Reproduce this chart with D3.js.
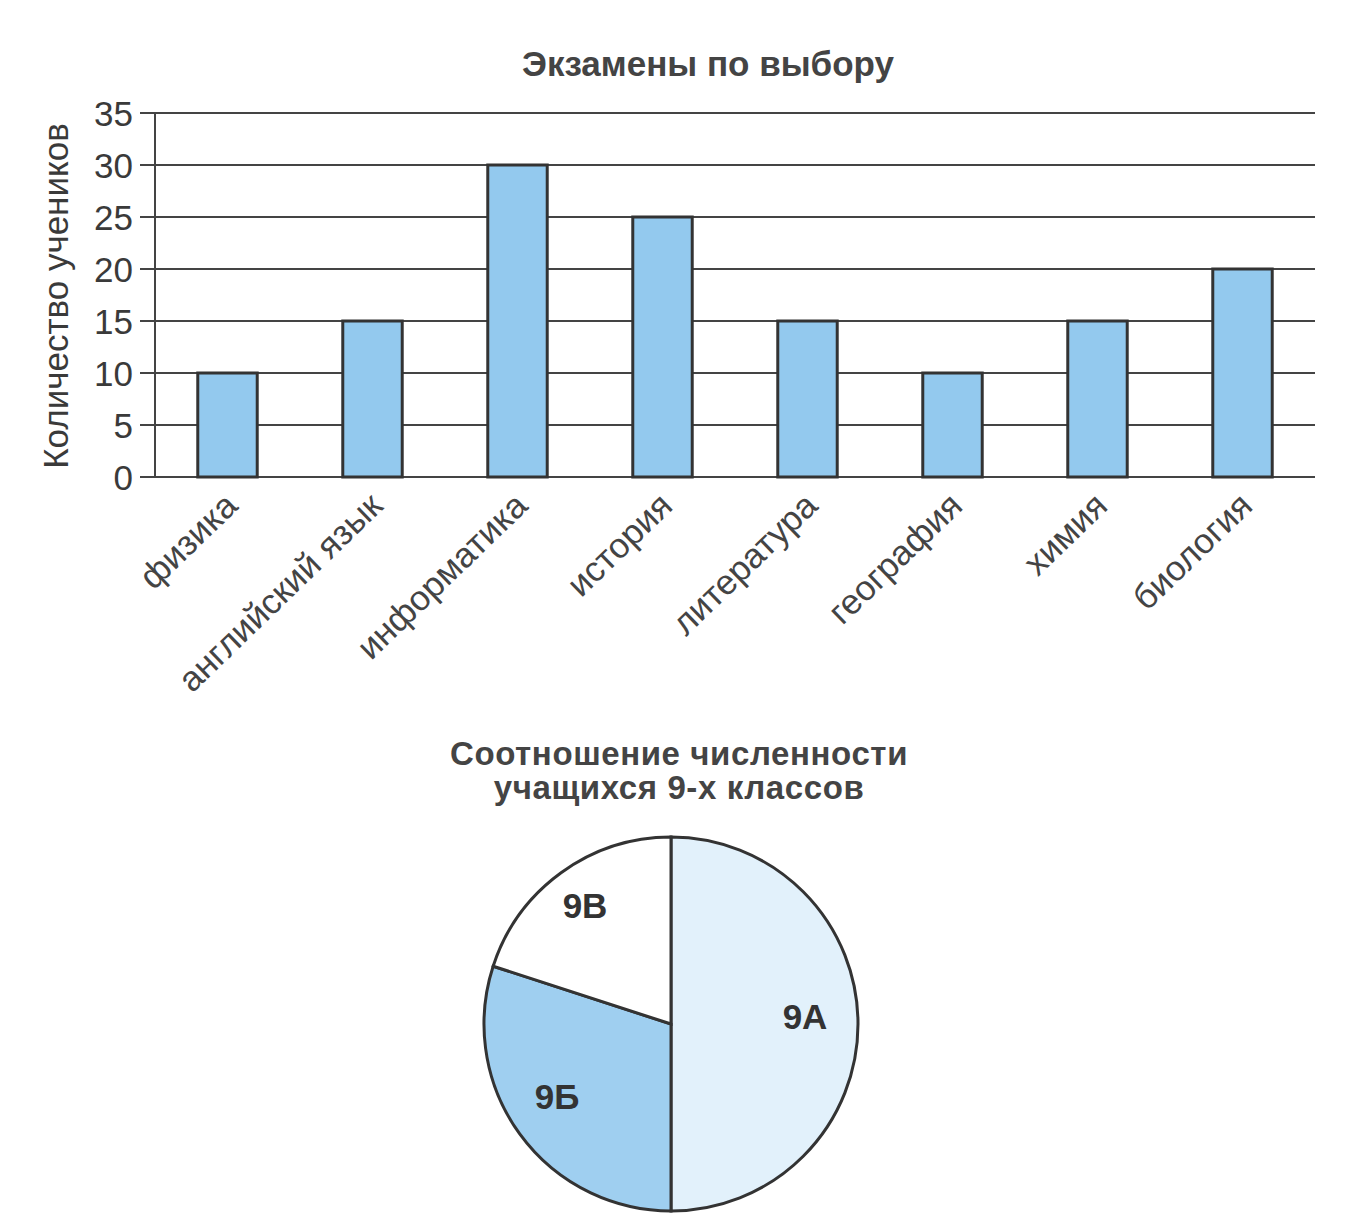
<!DOCTYPE html>
<html><head><meta charset="utf-8">
<script src="https://cdn.jsdelivr.net/npm/d3@7/dist/d3.min.js"></script>
<style>body{margin:0;background:#fff}svg{display:block}text{font-family:"Liberation Sans",Arial,sans-serif}</style>
</head><body>
<svg id="c" width="1371" height="1232"></svg>
<script>
const subjects = ["физика","английский язык","информатика","история","литература","география","химия","биология"];
const students = [10,15,30,25,15,10,15,20];
const yTicks = [0,5,10,15,20,25,30,35];
const classes = ["9А","9Б","9В"];
const classShare = [50,30,20];

const svg = d3.select("#c");
const ink = "#3a3a3a";

// bar chart
const x = d3.scaleBand().domain(subjects).range([155,1315]).paddingInner(0.59).paddingOuter(0.295);
const y = d3.scaleLinear().domain([0,35]).range([477,113]);

svg.append("text").attr("x",708).attr("y",76).attr("text-anchor","middle")
  .attr("font-size",35).attr("font-weight","bold").attr("fill","#444").text("Экзамены по выбору");

const grid = svg.append("g");
grid.selectAll("line").data(yTicks).join("line")
  .attr("x1",140).attr("x2",1315).attr("y1",d=>y(d)).attr("y2",d=>y(d))
  .attr("stroke","#444").attr("stroke-width",2);
svg.append("line").attr("x1",155).attr("x2",155).attr("y1",y(35)).attr("y2",y(0))
  .attr("stroke","#444").attr("stroke-width",2);

const yAxis = d3.axisLeft(y).tickValues(yTicks).tickSize(0).tickPadding(0);
const ga = svg.append("g").attr("transform","translate(133,0)").call(yAxis);
ga.select(".domain").remove();
ga.selectAll("text").attr("font-size",35).attr("fill",ink).attr("font-family","Liberation Sans, Arial, sans-serif").attr("dy","0.36em");

svg.append("text").attr("transform","translate(68,296) rotate(-90)").attr("text-anchor","middle")
  .attr("font-size",35).attr("fill",ink).text("Количество учеников");

svg.append("g").selectAll("rect").data(subjects).join("rect")
  .attr("x",d=>x(d)).attr("width",x.bandwidth())
  .attr("y",(d,i)=>y(students[i])).attr("height",(d,i)=>y(0)-y(students[i]))
  .attr("fill","#93c9ee").attr("stroke","#333").attr("stroke-width",3);

const xAxis = d3.axisBottom(x).tickSize(0).tickPadding(0);
const gx = svg.append("g").attr("transform","translate(0,477)").call(xAxis);
gx.select(".domain").remove();
gx.selectAll("text").attr("font-size",35).attr("fill","#444").attr("font-family","Liberation Sans, Arial, sans-serif")
  .attr("text-anchor","end").attr("dy",0).attr("transform","translate(12,31) rotate(-44)");

// pie chart
svg.append("text").attr("x",679).attr("y",765).attr("text-anchor","middle")
  .attr("font-size",33).attr("letter-spacing",0.6).attr("font-weight","bold").attr("fill","#444").text("Соотношение численности");
svg.append("text").attr("x",679).attr("y",799).attr("text-anchor","middle")
  .attr("font-size",33).attr("letter-spacing",0.6).attr("font-weight","bold").attr("fill","#444").text("учащихся 9-х классов");

const pie = d3.pie().sort(null).value(d=>d)(classShare);
const arc = d3.arc().innerRadius(0).outerRadius(187);
const fills = ["#e2f1fb","#9fcff0","#ffffff"];
const pg = svg.append("g").attr("transform","translate(671,1024)");
pg.selectAll("path").data(pie).join("path").attr("d",arc)
  .attr("fill",(d,i)=>fills[i]).attr("stroke","#333").attr("stroke-width",3);
const labelPos = [[134,-7],[-114,73],[-86,-118]];
pg.selectAll("text.l").data(pie).join("text").attr("class","l")
  .attr("x",(d,i)=>labelPos[i][0]).attr("y",(d,i)=>labelPos[i][1]).attr("dy","0.35em")
  .attr("text-anchor","middle").attr("font-size",35).attr("font-weight","bold").attr("fill","#333")
  .text((d,i)=>classes[i]);
</script>
</body></html>
